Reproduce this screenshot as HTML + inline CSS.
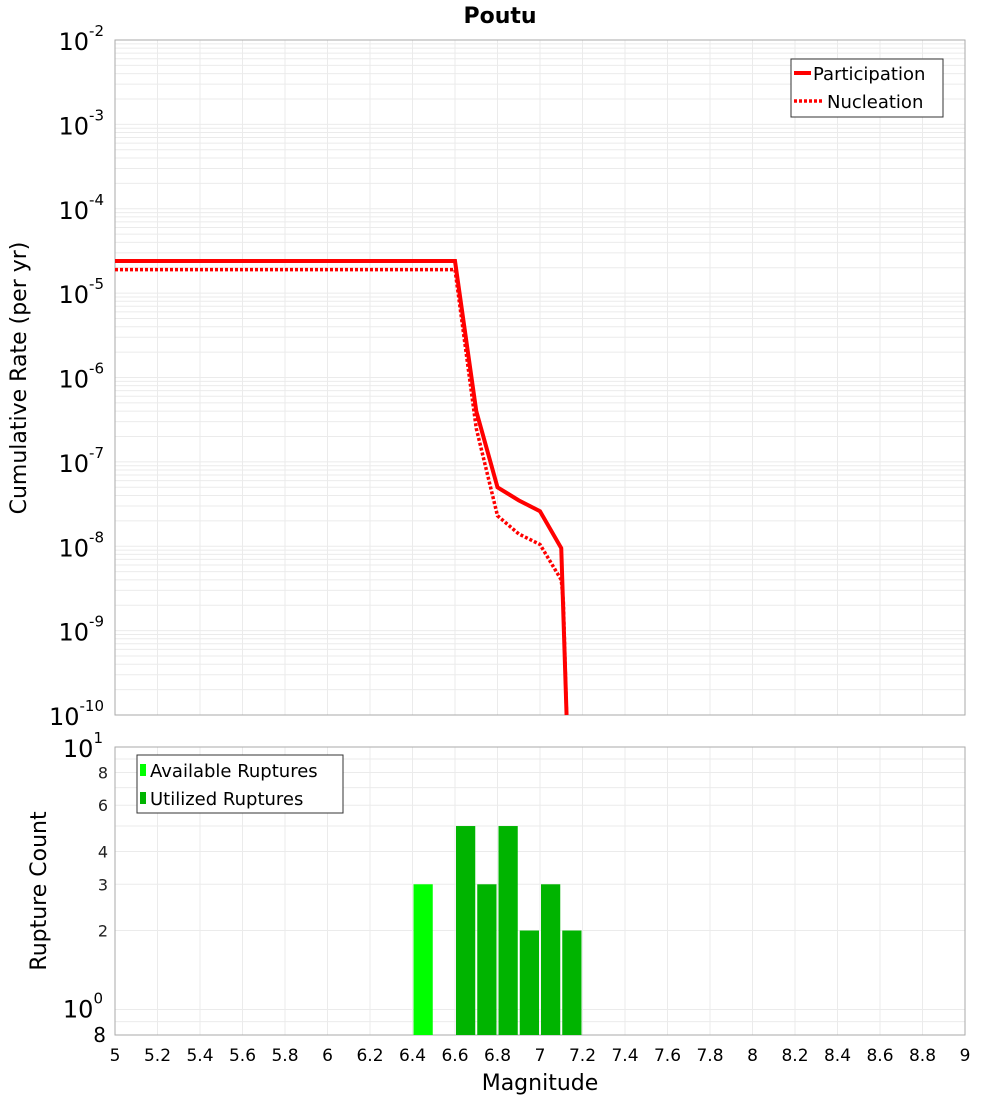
<!DOCTYPE html>
<html><head><meta charset="utf-8"><style>
body{margin:0;background:#fff;font-family:"Liberation Sans","DejaVu Sans",sans-serif}
svg text{font-family:"DejaVu Sans","Liberation Sans",sans-serif}
</style></head><body>
<svg id="c" width="1000" height="1100" xmlns="http://www.w3.org/2000/svg"></svg>
<script>
const partMags=[5,6.6,6.7,6.8,6.9,7.0,7.1,7.125];
const partRates=[2.4e-5,2.4e-5,4e-7,5e-8,3.5e-8,2.6e-8,9.5e-9,1e-10];
const nuclMags=[5,6.6,6.7,6.8,6.9,7.0,7.1,7.11,7.125];
const nuclRates=[1.9e-5,1.9e-5,2.5e-7,2.3e-8,1.4e-8,1.05e-8,4e-9,2.2e-9,1e-10];
const availBins=[6.4];
const availCounts=[3];
const usedBins=[6.6,6.7,6.8,6.9,7.0,7.1];
const usedCounts=[5,3,5,2,3,2];
const xTicks=[5,5.2,5.4,5.6,5.8,6,6.2,6.4,6.6,6.8,7,7.2,7.4,7.6,7.8,8,8.2,8.4,8.6,8.8,9];
const yTopExp=[-2,-3,-4,-5,-6,-7,-8,-9,-10];
const yBotTicks=[8,6,4,3,2];

const NS="http://www.w3.org/2000/svg",svg=document.getElementById('c');
function el(t,a,p){const e=document.createElementNS(NS,t);for(const k in a)e.setAttribute(k,a[k]);(p||svg).appendChild(e);return e;}
const L=115,R=965,T1=40,B1=715,T2=747,B2=1035;
const x=m=>L+(m-5)/(9-5)*(R-L);
const y1=v=>T1+(-2-Math.log10(v))/8*(B1-T1);
const y2=v=>T2+(1-Math.log10(v))/(1-Math.log10(0.8))*(B2-T2);

const g=el('g',{});

for(let e=-10;e<-2;e++)for(let k=1;k<10;k++){const v=k*Math.pow(10,e);const yy=y1(v);
 el('line',{x1:L,x2:R,y1:yy,y2:yy,stroke:'#ebebeb','stroke-width':1},g);}
[0.8,0.9,1,2,3,4,5,6,7,8,9].forEach(v=>{const yy=y2(v);el('line',{x1:L,x2:R,y1:yy,y2:yy,stroke:'#ebebeb'},g);});
xTicks.forEach(m=>{el('line',{x1:x(m),x2:x(m),y1:T1,y2:B1,stroke:'#ebebeb'},g);el('line',{x1:x(m),x2:x(m),y1:T2,y2:B2,stroke:'#ebebeb'},g);});

const f1=el('rect',{x:L,y:T1,width:R-L,height:B1-T1,fill:'none',stroke:'#aaa'});

const f2=el('rect',{x:L,y:T2,width:R-L,height:B2-T2,fill:'none',stroke:'#aaa'});


const t=el('text',{x:500,y:23,'text-anchor':'middle','font-size':22,'font-weight':'bold'});t.textContent='Poutu';


yTopExp.forEach(e=>{const tx=el('text',{x:104,y:y1(Math.pow(10,e))+10,'text-anchor':'end','font-size':24});
 
 tx.innerHTML='10<tspan dy="-14" font-size="15">'+e+'</tspan>';});
const tt1=el('text',{x:103,y:T2+10,'text-anchor':'end','font-size':24});tt1.innerHTML='10<tspan dy="-14" font-size="15">1</tspan>';

const tt0=el('text',{x:103,y:y2(1)+8,'text-anchor':'end','font-size':24});tt0.innerHTML='10<tspan dy="-14" font-size="15">0</tspan>';

const t8=el('text',{x:106,y:B2+7,'text-anchor':'end','font-size':20});t8.textContent='8';

yBotTicks.forEach(v=>{const tx=el('text',{x:108,y:y2(v)+6,'text-anchor':'end','font-size':16,fill:'#222'});tx.textContent=v;
 });
xTicks.forEach(m=>{const tx=el('text',{x:x(m),y:1061,'text-anchor':'middle','font-size':17});tx.textContent=String(m);
 });

const yl=el('text',{x:0,y:0,transform:'translate(26,378) rotate(-90)','text-anchor':'middle','font-size':22});yl.textContent='Cumulative Rate (per yr)';

const yl2=el('text',{x:0,y:0,transform:'translate(46,891) rotate(-90)','text-anchor':'middle','font-size':22});yl2.textContent='Rupture Count';

const xl=el('text',{x:540,y:1090,'text-anchor':'middle','font-size':22});xl.textContent='Magnitude';


const clip=el('clipPath',{id:'cp'});el('rect',{x:L,y:T1,width:R-L,height:B1-T1+1},clip);
const pp=el('polyline',{points:partMags.map((m,i)=>x(m)+','+y1(partRates[i])).join(' '),fill:'none',stroke:'#f00','stroke-width':4,'clip-path':'url(#cp)'});

const np=el('polyline',{points:nuclMags.map((m,i)=>x(m)+','+y1(nuclRates[i])).join(' '),fill:'none',stroke:'#f00','stroke-width':3.5,'stroke-dasharray':'3,2','clip-path':'url(#cp)'});


function bars(bins,counts,col,name){bins.forEach((b,i)=>{const x0=x(b)+1,x1=x(b+0.1)-1,yy=y2(counts[i]);
 const r=el('rect',{x:x0,y:yy,width:x1-x0,height:B2-yy,fill:col});
 });}
bars(availBins,availCounts,'#00ff00','available-bar');
bars(usedBins,usedCounts,'#00b400','utilized-bar');

const lg=el('g',{});
el('rect',{x:791,y:59,width:152,height:58,fill:'#fff',stroke:'#333'},lg);
el('line',{x1:794,x2:811,y1:73,y2:73,stroke:'#f00','stroke-width':4},lg);
el('line',{x1:794,x2:822,y1:101,y2:101,stroke:'#f00','stroke-width':3.5,'stroke-dasharray':'3,2'},lg);
let a=el('text',{x:813,y:80,'font-size':18},lg);a.textContent='Participation';
a=el('text',{x:827,y:108,'font-size':18},lg);a.textContent='Nucleation';
const lg2=el('g',{});
el('rect',{x:137,y:755,width:206,height:58,fill:'#fff',stroke:'#333'},lg2);
el('rect',{x:140,y:764,width:6,height:12,fill:'#00ff00'},lg2);
el('rect',{x:140,y:792,width:6,height:12,fill:'#00b400'},lg2);
a=el('text',{x:150,y:777,'font-size':18},lg2);a.textContent='Available Ruptures';
a=el('text',{x:150,y:805,'font-size':18},lg2);a.textContent='Utilized Ruptures';
</script>
</body></html>
